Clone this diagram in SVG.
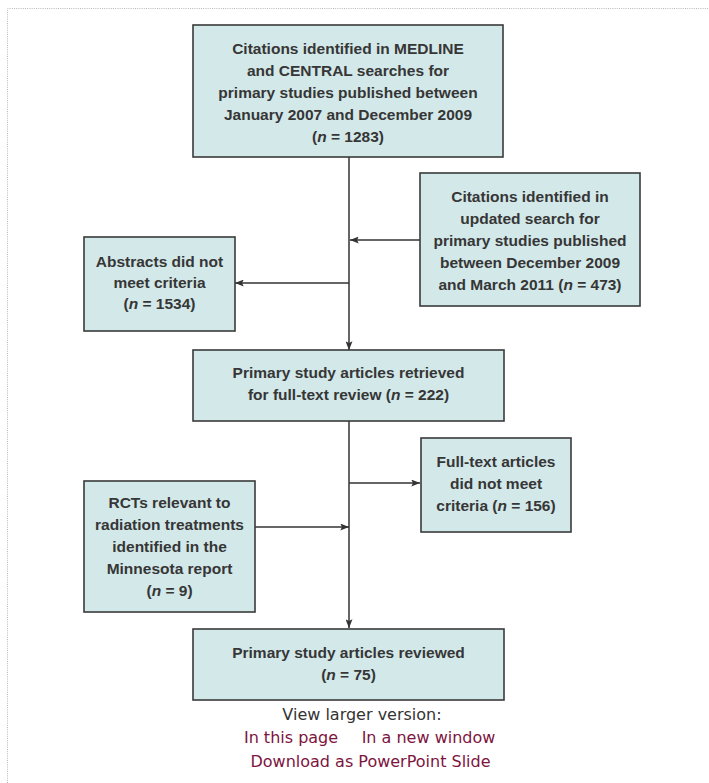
<svg xmlns="http://www.w3.org/2000/svg" width="709" height="783" viewBox="0 0 709 783">
<style>
.box{fill:#d3e8e9;stroke:#3a3a3a;stroke-width:1.6}
.t{font-family:"Liberation Sans",Arial,sans-serif;font-weight:bold;font-size:15.5px;fill:#363636;text-anchor:middle}
.i{font-style:italic}
.edge{fill:none;stroke:#333;stroke-width:1.5}
.frame{fill:none;stroke:#b8b8b8;stroke-width:1;stroke-dasharray:1 1.2}
.foot{font-family:"DejaVu Sans",Verdana,sans-serif;font-size:16px;text-anchor:middle}
</style>
<defs>
<marker id="ah" viewBox="0 0 10 8" refX="10" refY="4" markerWidth="9" markerHeight="7" markerUnits="userSpaceOnUse" orient="auto">
<path d="M0,0 L10,4 L0,8 L2,4 z" fill="#333"/>
</marker>
</defs>
<rect width="709" height="783" fill="#fff"/>
<path class="frame" d="M7.5,783 V8.5 H709"/>

<g id="connectors">
<path class="edge" d="M349,157 V350" marker-end="url(#ah)"/>
<path class="edge" d="M420,240 H350" marker-end="url(#ah)"/>
<path class="edge" d="M349,283 H235" marker-end="url(#ah)"/>
<path class="edge" d="M349,421 V628" marker-end="url(#ah)"/>
<path class="edge" d="M349,483 H420" marker-end="url(#ah)"/>
<path class="edge" d="M255,527 H349" marker-end="url(#ah)"/>
</g>

<g id="n1">
<rect class="box" x="193" y="25" width="310" height="132"/>
<text class="t" x="348" y="54">Citations identified in MEDLINE</text>
<text class="t" x="348" y="76">and CENTRAL searches for</text>
<text class="t" x="348" y="98">primary studies published between</text>
<text class="t" x="348" y="120">January 2007 and December 2009</text>
<text class="t" x="348" y="142">(<tspan class="i">n</tspan> = 1283)</text>
</g>

<g id="n2">
<rect class="box" x="420" y="173" width="220" height="133"/>
<text class="t" x="530" y="202">Citations identified in</text>
<text class="t" x="530" y="224">updated search for</text>
<text class="t" x="530" y="246">primary studies published</text>
<text class="t" x="530" y="268">between December 2009</text>
<text class="t" x="530" y="290">and March 2011 (<tspan class="i">n</tspan> = 473)</text>
</g>

<g id="n3">
<rect class="box" x="84" y="237" width="151" height="94"/>
<text class="t" x="159.5" y="267">Abstracts did not</text>
<text class="t" x="159.5" y="288">meet criteria</text>
<text class="t" x="159.5" y="309">(<tspan class="i">n</tspan> = 1534)</text>
</g>

<g id="n4">
<rect class="box" x="193" y="350" width="311" height="71"/>
<text class="t" x="348.5" y="378">Primary study articles retrieved</text>
<text class="t" x="348.5" y="400">for full-text review (<tspan class="i">n</tspan> = 222)</text>
</g>

<g id="n5">
<rect class="box" x="421" y="438" width="150" height="94"/>
<text class="t" x="496" y="467">Full-text articles</text>
<text class="t" x="496" y="489">did not meet</text>
<text class="t" x="496" y="511">criteria (<tspan class="i">n</tspan> = 156)</text>
</g>

<g id="n6">
<rect class="box" x="84" y="481" width="171" height="131"/>
<text class="t" x="169.5" y="508">RCTs relevant to</text>
<text class="t" x="169.5" y="530">radiation treatments</text>
<text class="t" x="169.5" y="552">identified in the</text>
<text class="t" x="169.5" y="574">Minnesota report</text>
<text class="t" x="169.5" y="596">(<tspan class="i">n</tspan> = 9)</text>
</g>

<g id="n7">
<rect class="box" x="193" y="629" width="311" height="71"/>
<text class="t" x="348.5" y="658">Primary study articles reviewed</text>
<text class="t" x="348.5" y="680">(<tspan class="i">n</tspan> = 75)</text>
</g>

<g id="footer">
<text class="foot" x="362" y="720" fill="#333">View larger version:</text>
<text class="foot" x="291" y="743" fill="#7d1440">In this page</text>
<text class="foot" x="428.5" y="743" fill="#7d1440">In a new window</text>
<text class="foot" x="370.5" y="767" fill="#7d1440">Download as PowerPoint Slide</text>
</g>
</svg>
